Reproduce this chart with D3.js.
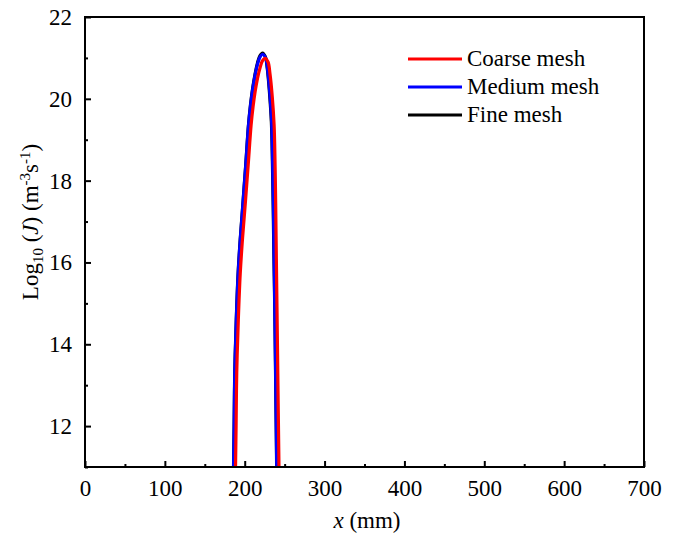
<!DOCTYPE html>
<html><head><meta charset="utf-8">
<script src="https://cdn.jsdelivr.net/npm/d3@7"></script>
<style>
html,body{margin:0;padding:0;background:#fff;}
svg{display:block;font-family:"Liberation Serif","Times New Roman",serif;}
</style></head>
<body><svg id="chart" width="676" height="541"></svg>
<script>
// ---- data ----
const seriesNames = ["Fine mesh", "Medium mesh", "Coarse mesh"];
const seriesColors = ["#000000", "#0000ff", "#ff0000"];
const legendOrder = ["Coarse mesh", "Medium mesh", "Fine mesh"];

const coarseX = [188.5,189.2,190.0,192.0,194.4,197.3,200.9,204.4,208.0,210.4,213.0,216.0,219.1,222.0,225.4,229.2,231.6,234.5,236.8,238.0,238.8,239.6,240.4,241.6,242.9];
const coarseY = [11.0,12.0,13.3,14.6,15.73,16.6,17.49,18.4,19.36,19.8,20.17,20.5,20.75,20.92,20.99,20.9,20.62,20.05,19.36,18.4,17.4,16.1,14.9,13.0,11.0];

const mediumX = [186.1,186.8,187.6,189.5,191.8,194.6,198.0,201.4,204.8,207.2,209.9,213.0,216.1,219.1,222.5,226.2,228.6,231.5,233.8,235.0,235.9,236.8,237.7,238.9,240.1];
const mediumY = [11.0,12.0,13.3,14.6,15.73,16.6,17.49,18.4,19.36,19.82,20.22,20.58,20.85,21.02,21.09,21.0,20.72,20.12,19.4,18.4,17.4,16.1,14.9,13.0,11.0];

const fineX = [186.0,186.7,187.5,189.4,191.7,194.5,197.9,201.3,204.7,207.1,209.8,212.9,216.0,219.0,222.3,225.8,228.2,231.0,233.4,234.7,235.6,236.6,237.6,238.8,240.0];
const fineY = [11.0,12.0,13.3,14.6,15.73,16.6,17.49,18.4,19.36,19.83,20.24,20.6,20.88,21.05,21.12,21.03,20.75,20.15,19.42,18.4,17.4,16.1,14.9,13.0,11.0];

const xTicks = [0,100,200,300,400,500,600,700];
const xMinor = [50,150,250,350,450,550,650];
const yTicks = [12,14,16,18,20,22];
const yMinor = [11,13,15,17,19,21];

// ---- layout ----
const FONT = "'Liberation Serif','Times New Roman',serif";
const svg = d3.select("#chart");
const L = 85, R = 644, T = 17, B = 467;
const x = d3.scaleLinear().domain([0,700]).range([L,R]);
const y = d3.scaleLinear().domain([11,22]).range([B,T]);

svg.append("defs").append("clipPath").attr("id","clip")
  .append("rect").attr("x",L).attr("y",T).attr("width",R-L).attr("height",B-T);

const seriesData = [
  fineX.map((v,i)=>[v,fineY[i]]),
  mediumX.map((v,i)=>[v,mediumY[i]]),
  coarseX.map((v,i)=>[v,coarseY[i]])
];

const line = d3.line().x(d=>x(d[0])).y(d=>y(d[1])).curve(d3.curveCatmullRom.alpha(0.5));
const g = svg.append("g").attr("clip-path","url(#clip)");
seriesData.forEach((d,i)=>{
  g.append("path").datum(d).attr("d",line)
   .attr("fill","none").attr("stroke",seriesColors[i]).attr("stroke-width",3.2)
   .attr("stroke-linejoin","round");
});

// axes (ticks inward)
const xAxis = d3.axisBottom(x).tickValues(xTicks).tickSize(-6).tickPadding(13).tickFormat(d3.format("d"));
const xAxisMinor = d3.axisBottom(x).tickValues(xMinor).tickSize(-3).tickFormat("");
const yAxis = d3.axisLeft(y).tickValues(yTicks).tickSize(-6).tickPadding(13).tickFormat(d3.format("d"));
const yAxisMinor = d3.axisLeft(y).tickValues(yMinor).tickSize(-3).tickFormat("");

function style(sel){
  sel.select(".domain").remove();
  sel.selectAll(".tick line").attr("stroke","#000").attr("stroke-width",2);
  sel.selectAll(".tick text").attr("fill","#000").attr("font-size",23).attr("font-family",FONT);
}
svg.append("g").attr("transform",`translate(0,${B})`).call(xAxis).call(style);
svg.append("g").attr("transform",`translate(0,${B})`).call(xAxisMinor).call(style);
svg.append("g").attr("transform",`translate(${L},0)`).call(yAxis).call(style);
svg.append("g").attr("transform",`translate(${L},0)`).call(yAxisMinor).call(style);

// frame
svg.append("rect").attr("x",L).attr("y",T).attr("width",R-L).attr("height",B-T)
  .attr("fill","none").attr("stroke","#000").attr("stroke-width",2);

// axis titles
const xt = svg.append("text").attr("x",367).attr("y",528).attr("text-anchor","middle")
  .attr("font-size",23).attr("font-family",FONT).attr("fill","#000");
xt.append("tspan").attr("font-style","italic").text("x");
xt.append("tspan").text(" (mm)");

const yt = svg.append("text").attr("transform","translate(38,222) rotate(-90)")
  .attr("text-anchor","middle").attr("font-size",23).attr("font-family",FONT).attr("fill","#000");
yt.append("tspan").text("Log");
yt.append("tspan").attr("font-size",15).attr("dy",5).text("10");
yt.append("tspan").attr("dy",-5).text(" (");
yt.append("tspan").attr("font-style","italic").text("J");
yt.append("tspan").text(") (m");
yt.append("tspan").attr("font-size",15).attr("dy",-8).text("-3");
yt.append("tspan").attr("dy",8).text("s");
yt.append("tspan").attr("font-size",15).attr("dy",-8).text("-1");
yt.append("tspan").attr("dy",8).text(")");

// legend
const legY = [59, 87, 115];
legendOrder.forEach((name,i)=>{
  const c = seriesColors[seriesNames.indexOf(name)];
  svg.append("line").attr("x1",408).attr("x2",462).attr("y1",legY[i]).attr("y2",legY[i])
    .attr("stroke",c).attr("stroke-width",3);
  svg.append("text").attr("x",467).attr("y",legY[i]+7).attr("font-size",23)
    .attr("font-family",FONT).attr("fill","#000").text(name);
});
</script></body></html>
